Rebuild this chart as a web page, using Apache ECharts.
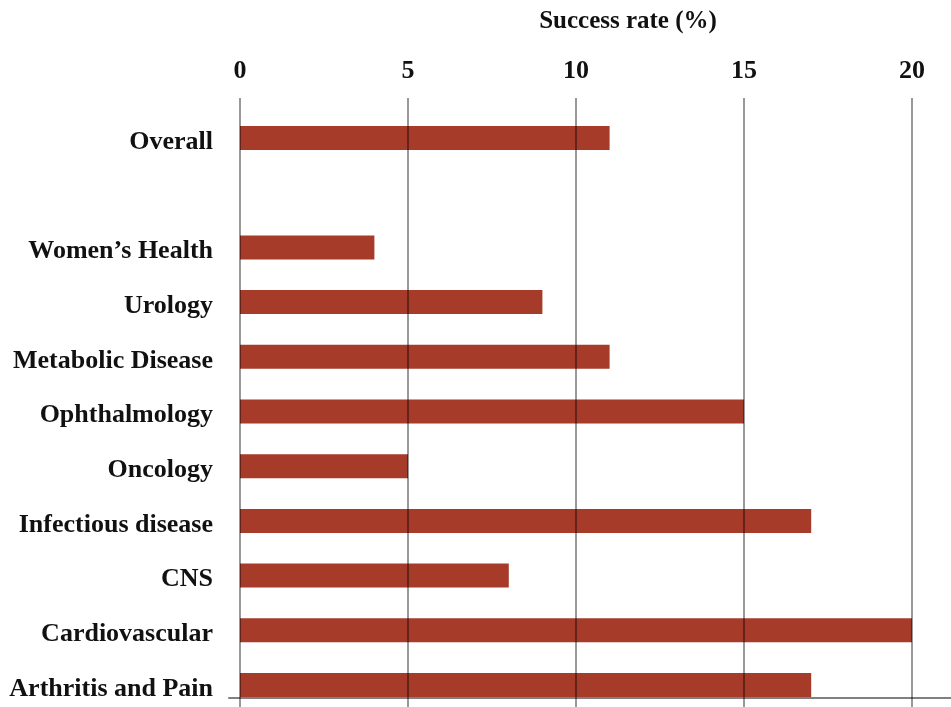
<!DOCTYPE html>
<html>
<head>
<meta charset="utf-8">
<script src="https://cdn.jsdelivr.net/npm/echarts@6/dist/echarts.min.js"></script>
<style>html,body{margin:0;padding:0;background:#fff}#c{width:951px;height:707px}</style>
</head>
<body>
<div id="c"></div>
<script>
const categories = ['Overall', '', 'Women\u2019s Health', 'Urology', 'Metabolic Disease', 'Ophthalmology', 'Oncology', 'Infectious disease', 'CNS', 'Cardiovascular', 'Arthritis and Pain'];
const successRate = [11, null, 4, 9, 11, 15, 5, 17, 8, 20, 17];
const xTicks = [0, 5, 10, 15, 20];
const axisTitle = 'Success rate (%)';

const FONT = 'Liberation Serif';
const chart = echarts.init(document.getElementById('c'));
chart.setOption({
  animation: false,
  backgroundColor: '#fff',
  grid: [
    { left: 240, right: 39, top: 138, bottom: 22 },
    { left: 240, right: 39, top: 98, bottom: 0 },
    { left: 229, right: 0, top: 98, bottom: 9 }
  ],
  xAxis: [
    { gridIndex: 0, type: 'value', min: xTicks[0], max: xTicks[xTicks.length - 1], interval: 5, show: false },
    { gridIndex: 1, type: 'value', position: 'top', z: 5,
      min: xTicks[0], max: xTicks[xTicks.length - 1], interval: 5,
      name: axisTitle, nameLocation: 'middle', nameGap: 64,
      nameTextStyle: { fontFamily: FONT, fontWeight: 'bold', fontSize: 25, color: '#111', padding: [0, 0, 0, 104] },
      axisLine: { show: false }, axisTick: { show: false },
      axisLabel: { fontFamily: FONT, fontWeight: 'bold', fontSize: 26, color: '#111', margin: 14 },
      splitLine: { show: true, lineStyle: { color: 'rgba(0,0,0,0.5)', width: 1.6 } } },
    { gridIndex: 2, type: 'value', position: 'bottom', min: 0, max: 1,
      axisLine: { show: true, lineStyle: { color: '#808080', width: 2 } },
      axisTick: { show: false }, axisLabel: { show: false }, splitLine: { show: false } }
  ],
  yAxis: [
    { gridIndex: 0, type: 'category', data: categories, inverse: true, boundaryGap: false,
      axisLine: { show: false }, axisTick: { show: false }, splitLine: { show: false },
      axisLabel: { interval: 0, margin: 27,
        formatter: function (v) { return v ? '{a|' + v + '}' : ''; },
        rich: { a: { fontFamily: FONT, fontWeight: 'bold', fontSize: 26, color: '#111', padding: [8, 0, 0, 0] } } } },
    { gridIndex: 1, type: 'value', show: false },
    { gridIndex: 2, type: 'value', show: false }
  ],
  series: [{
    type: 'bar', xAxisIndex: 0, yAxisIndex: 0,
    data: successRate, barWidth: 24,
    itemStyle: { color: '#a53b28' }
  }]
});
</script>
</body>
</html>
